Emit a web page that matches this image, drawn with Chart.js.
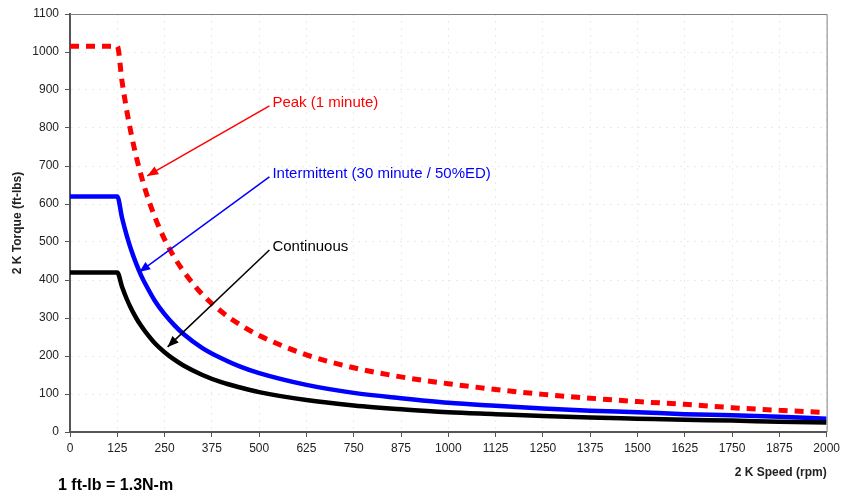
<!DOCTYPE html>
<html>
<head>
<meta charset="utf-8">
<script src="https://cdn.jsdelivr.net/npm/chart.js@4/dist/chart.umd.min.js"></script>
<style>
  html, body { margin: 0; padding: 0; background: #fff; }
  #wrap { width: 844px; height: 496px; position: relative; }
</style>
</head>
<body>
<div id="wrap"><canvas id="torqueChart"></canvas></div>
<script>
// --- Data ---
const speedRpm = [0, 125, 137.5, 150, 162.5, 175, 187.5, 200, 225, 250, 275, 300, 350, 400, 450, 500, 625, 750, 875, 1000, 1125, 1250, 1375, 1500, 1625, 1750, 1875, 2000];
const peakTorque = [1015, 1015, 923, 846, 781, 725, 677, 634, 564, 507, 461, 423, 362, 317, 282, 254, 203, 169, 145, 127, 112, 99, 89, 80, 73, 64, 57, 51];
const intermittentTorque = [620, 620, 564, 517, 477, 443, 413, 388, 344, 310, 282, 258, 221, 194, 172, 155, 124, 103, 89, 77, 69, 62, 56, 52, 47, 44, 40, 35];
const continuousTorque = [420, 420, 382, 350, 323, 300, 280, 263, 233, 210, 191, 175, 150, 131, 117, 105, 84, 70, 60, 52, 47, 42, 38, 35, 32, 30, 27, 25];

// callout labels: text, colour, label anchor (rpm, ft-lbs), arrow tip (rpm, ft-lbs)
const calloutText = ['Peak (1 minute)', 'Intermittent (30 minute / 50%ED)', 'Continuous'];
const calloutColor = ['#ff0000', '#0000ff', '#000000'];
const calloutAnchor = [[535, 866], [535, 679], [535, 487]];
const calloutTip = [[204, 674], [183, 421], [258, 224]];

const FONT = '"Liberation Sans", Arial, sans-serif';

function toPoints(ys) {
    return speedRpm.map((x, i) => ({ x: x, y: ys[i] }));
}

// frame on top/right, callout arrows and the conversion note
const decorPlugin = {
    id: 'decor',
    afterDatasetsDraw(chart) {
        const { ctx, chartArea: a, scales } = chart;
        ctx.save();
        ctx.strokeStyle = '#808080';
        ctx.lineWidth = 1;
        ctx.beginPath();
        ctx.moveTo(a.left, a.top + 0.5);
        ctx.lineTo(a.right + 0.5, a.top + 0.5);
        ctx.lineTo(a.right + 0.5, a.bottom);
        ctx.stroke();

        calloutText.forEach((txt, i) => {
            const lx = scales.x.getPixelForValue(calloutAnchor[i][0]);
            const ly = scales.y.getPixelForValue(calloutAnchor[i][1]);
            const tx = scales.x.getPixelForValue(calloutTip[i][0]);
            const ty = scales.y.getPixelForValue(calloutTip[i][1]);
            const sx = lx - 3, sy = ly + 3;
            ctx.strokeStyle = calloutColor[i];
            ctx.fillStyle = calloutColor[i];
            ctx.lineWidth = 1.5;
            ctx.beginPath();
            ctx.moveTo(sx, sy);
            ctx.lineTo(tx, ty);
            ctx.stroke();
            const ang = Math.atan2(ty - sy, tx - sx);
            const len = 11, wid = 4.5;
            ctx.beginPath();
            ctx.moveTo(tx, ty);
            ctx.lineTo(tx - len * Math.cos(ang) + wid * Math.sin(ang), ty - len * Math.sin(ang) - wid * Math.cos(ang));
            ctx.lineTo(tx - len * Math.cos(ang) - wid * Math.sin(ang), ty - len * Math.sin(ang) + wid * Math.cos(ang));
            ctx.closePath();
            ctx.fill();
            ctx.font = '15px ' + FONT;
            ctx.textBaseline = 'middle';
            ctx.textAlign = 'left';
            ctx.fillText(txt, lx, ly);
        });

        ctx.fillStyle = '#000';
        ctx.font = 'bold 16px ' + FONT;
        ctx.textBaseline = 'middle';
        ctx.textAlign = 'left';
        ctx.fillText('1 ft-lb = 1.3N-m', 58, 486);
        ctx.restore();
    }
};

const ctx = document.getElementById('torqueChart').getContext('2d');
new Chart(ctx, {
    type: 'line',
    data: {
        datasets: [
            { label: 'Peak (1 minute)', data: toPoints(peakTorque), borderColor: '#ff0000', borderWidth: 5, borderDash: [9, 7], borderCapStyle: 'butt', cubicInterpolationMode: 'monotone', pointRadius: 0, fill: false, order: 3 },
            { label: 'Intermittent (30 minute / 50%ED)', data: toPoints(intermittentTorque), borderColor: '#0000ff', borderWidth: 4.5, cubicInterpolationMode: 'monotone', pointRadius: 0, fill: false, order: 2 },
            { label: 'Continuous', data: toPoints(continuousTorque), borderColor: '#000000', borderWidth: 4.5, cubicInterpolationMode: 'monotone', pointRadius: 0, fill: false, order: 1 }
        ]
    },
    options: {
        responsive: true,
        maintainAspectRatio: false,
        animation: false,
        layout: { padding: { top: 14, right: 16, left: 0, bottom: 0 } },
        plugins: { legend: { display: false }, tooltip: { enabled: false } },
        scales: {
            x: {
                type: 'linear',
                min: 0, max: 2000,
                ticks: { stepSize: 125, color: '#222', font: { family: FONT, size: 12 }, padding: 4, maxRotation: 0, autoSkip: false, callback: v => String(v) },
                grid: { color: '#ebebeb', lineWidth: 1, tickLength: 5, tickColor: '#555', tickWidth: 1 },
                border: { color: '#555', width: 2, dash: [2, 5] },
                title: { display: true, text: '2 K Speed (rpm)', align: 'end', color: '#222', font: { family: FONT, size: 12, weight: 'bold' }, padding: { top: 4, bottom: 16 } },
                afterFit(scale) { scale.height = 64; }
            },
            y: {
                min: 0, max: 1100,
                ticks: { stepSize: 100, color: '#222', font: { family: FONT, size: 12 }, padding: 6, callback: v => String(v) },
                grid: { color: '#ebebeb', lineWidth: 1, tickLength: 5, tickColor: '#555', tickWidth: 1 },
                border: { color: '#555', width: 2, dash: [2, 5] },
                title: { display: true, text: '2 K Torque (ft-lbs)', color: '#222', font: { family: FONT, size: 12, weight: 'bold' }, padding: { top: 10, bottom: 0 } },
                afterFit(scale) { scale.width = 70; }
            }
        }
    },
    plugins: [decorPlugin]
});
</script>
</body>
</html>
